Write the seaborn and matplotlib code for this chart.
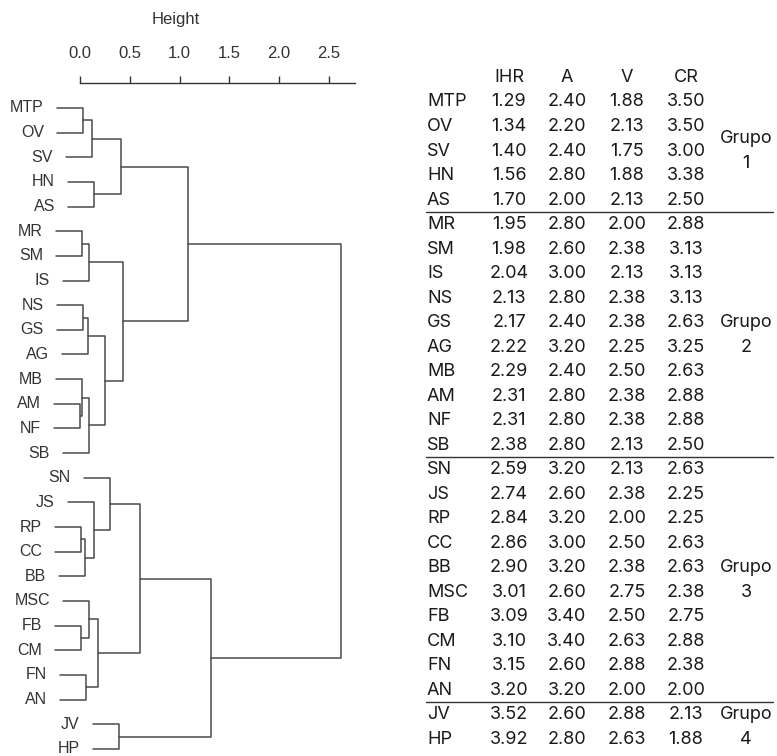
import numpy as np
import pandas as pd
import matplotlib
matplotlib.use("Agg")
import matplotlib.pyplot as plt
import seaborn as sns

# leaves in dendrogram order (top to bottom)
leaves = ["MTP", "OV", "SV", "HN", "AS", "MR", "SM", "IS", "NS", "GS", "AG",
          "MB", "AM", "NF", "SB", "SN", "JS", "RP", "CC", "BB", "MSC", "FB",
          "CM", "FN", "AN", "JV", "HP"]

# merges: (child a, child b, height); str = leaf, int = earlier merge
merges = [
    ("MTP", "OV", 0.03), (0, "SV", 0.12), ("HN", "AS", 0.14), (1, 2, 0.41),
    ("MR", "SM", 0.02), (4, "IS", 0.09), ("NS", "GS", 0.03), (6, "AG", 0.08),
    ("AM", "NF", 0.00), ("MB", 8, 0.02), (9, "SB", 0.09), (7, 10, 0.25),
    (5, 11, 0.43), (3, 12, 1.09),
    ("RP", "CC", 0.01), (14, "BB", 0.05), ("JS", 15, 0.14), ("SN", 16, 0.30),
    ("FB", "CM", 0.01), ("MSC", 18, 0.09), ("FN", "AN", 0.06), (19, 20, 0.18),
    (17, 21, 0.60), ("JV", "HP", 0.39), (22, 23, 1.32), (13, 24, 2.62),
]

# table data
ihr = [1.29, 1.34, 1.40, 1.56, 1.70, 1.95, 1.98, 2.04, 2.13, 2.17, 2.22, 2.29,
       2.31, 2.31, 2.38, 2.59, 2.74, 2.84, 2.86, 2.90, 3.01, 3.09, 3.10, 3.15,
       3.20, 3.52, 3.92]
a_vals = [2.40, 2.20, 2.40, 2.80, 2.00, 2.80, 2.60, 3.00, 2.80, 2.40, 3.20, 2.40,
          2.80, 2.80, 2.80, 3.20, 2.60, 3.20, 3.00, 3.20, 2.60, 3.40, 3.40, 2.60,
          3.20, 2.60, 2.80]
v_vals = [1.88, 2.13, 1.75, 1.88, 2.13, 2.00, 2.38, 2.13, 2.38, 2.38, 2.25, 2.50,
          2.38, 2.38, 2.13, 2.13, 2.38, 2.00, 2.50, 2.38, 2.75, 2.50, 2.63, 2.88,
          2.00, 2.88, 2.63]
cr_vals = [3.50, 3.50, 3.00, 3.38, 2.50, 2.88, 3.13, 3.13, 3.13, 2.63, 3.25, 2.63,
           2.88, 2.88, 2.50, 2.63, 2.25, 2.25, 2.63, 2.63, 2.38, 2.75, 2.88, 2.38,
           2.00, 2.13, 1.88]
columns = ["IHR", "A", "V", "CR"]
group_numbers = ["1", "2", "3", "4"]
group_sizes = [5, 10, 10, 2]
height_ticks = [0.0, 0.5, 1.0, 1.5, 2.0, 2.5]

sns.set_style("white")
plt.rcParams["font.family"] = ["Liberation Sans", "DejaVu Sans"]

W, H = 777, 756
fig = plt.figure(figsize=(W / 100, H / 100), dpi=100)

# ---- dendrogram ----
hang = 0.1 * max(m[2] for m in merges)
leaf_y = {name: i for i, name in enumerate(leaves)}
node_pos = {}
rows = []
leaf_start = {}
for k, (c1, c2, h) in enumerate(merges):
    pts = []
    for c in (c1, c2):
        if isinstance(c, str):
            leaf_start[c] = h - hang
            pts.append((h - hang, leaf_y[c]))
        else:
            pts.append(node_pos[c])
    (h1, y1), (h2, y2) = pts
    for x, y in [(h1, y1), (h, y1), (h, y2), (h2, y2)]:
        rows.append({"h": x, "y": y, "seg": k})
    node_pos[k] = (h, (y1 + y2) / 2)
seg_df = pd.DataFrame(rows)

ax = fig.add_axes([15 / W, 0, 345 / W, (H - 83) / H])
sns.lineplot(data=seg_df, x="h", y="y", units="seg", estimator=None,
             sort=False, color="#4a4a4a", lw=1.1, ax=ax)
ax.set_xlim((15 - 80) / 99.5, (360 - 80) / 99.5)
ax.set_ylim(26.29, -1.014)

for name in leaves:
    ax.text(leaf_start[name] - 0.13, leaf_y[name], name, ha="right",
            va="center", fontsize=11.5, color="#333333")

ax.xaxis.tick_top()
ax.xaxis.set_label_position("top")
ax.set_xticks(height_ticks)
ax.set_xticklabels([f"{t:.1f}" for t in height_ticks], fontsize=12, color="#333333")
ax.tick_params(axis="x", direction="out", length=5, width=1, color="#333333",
               pad=11, top=True, bottom=False)
ax.set_yticks([])
ax.set_ylabel("")
ax.set_xlabel("Height", fontsize=12, color="#333333")
ax.xaxis.set_label_coords(0.467, 1.088)
for s in ["left", "right", "bottom"]:
    ax.spines[s].set_visible(False)
ax.spines["top"].set_bounds(0, 2.76)
ax.spines["top"].set_color("#333333")
ax.spines["top"].set_linewidth(1)
ax.patch.set_alpha(0)

# ---- table ----
tfont = ["Inter", "DejaVu Sans"]
tsize = 13
ax2 = fig.add_axes([400 / W, 0, 377 / W, (H - 60) / H])
ax2.set_xlim(400, 777)
ax2.set_ylim(26.69, -1.714)
ax2.axis("off")

col_x = [509, 567, 627, 686]
table = [ihr, a_vals, v_vals, cr_vals]
for cx, cname in zip(col_x, columns):
    ax2.text(cx, -1, cname, ha="center", va="center", fontsize=tsize,
             family=tfont, color="#1a1a1a")
for i, name in enumerate(leaves):
    ax2.text(427, i, name, ha="left", va="center", fontsize=tsize,
             family=tfont, color="#1a1a1a")
    for cx, vals in zip(col_x, table):
        ax2.text(cx, i, f"{vals[i]:.2f}", ha="center", va="center",
                 fontsize=tsize, family=tfont, color="#1a1a1a")

start = 0
for num, size in zip(group_numbers, group_sizes):
    mid = start + (size - 1) / 2
    ax2.text(746, mid - 0.5, "Grupo", ha="center", va="center",
             fontsize=tsize, family=tfont, color="#1a1a1a")
    ax2.text(746, mid + 0.5, num, ha="center", va="center",
             fontsize=tsize, family=tfont, color="#1a1a1a")
    end = start + size
    if end < len(leaves):
        ax2.plot([426, 773], [end - 0.5, end - 0.5], color="#333333", lw=1)
    start = end

fig.savefig("out.png", dpi=100)
